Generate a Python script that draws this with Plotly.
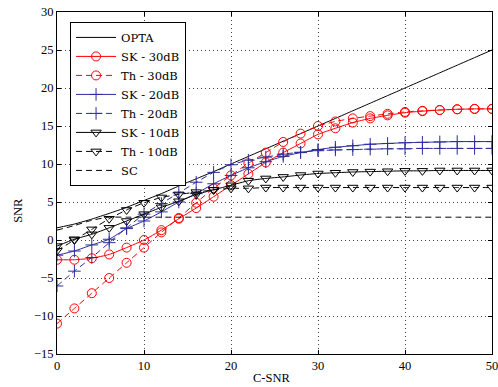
import plotly.graph_objects as go

x = [0, 2, 4, 6, 8, 10, 12, 14, 16, 18, 20, 22, 24, 26, 28, 30, 32, 34, 36, 38, 40, 42, 44, 46, 48, 50]

opta = [1.6, 2.1, 2.75, 3.5, 4.3, 5.2, 6.1, 7.1, 8.05, 9.0, 10.0, 11.0, 12.0, 13.0, 14.0, 15.0,
        16.0, 17.0, 18.0, 19.0, 20.0, 21.0, 22.0, 23.0, 24.0, 25.0]
sk30 = [-2.6, -2.6, -2.4, -1.9, -1.0, 0.0, 1.3, 2.8, 4.2, 5.7, 7.2, 8.7, 10.2, 11.5, 12.7, 13.9,
        14.7, 15.45, 16.0, 16.4, 16.75, 16.95, 17.1, 17.2, 17.25, 17.25]
th30 = [-11.0, -9.0, -7.0, -5.0, -3.0, -1.0, 1.0, 2.9, 4.9, 6.8, 8.5, 10.1, 11.5, 12.9, 14.0, 15.0,
        15.6, 16.0, 16.3, 16.6, 16.85, 17.0, 17.1, 17.2, 17.25, 17.25]
sk20 = [-2.0, -1.45, -0.65, 0.1, 1.5, 2.5, 3.7, 5.0, 6.1, 7.4, 8.5, 9.5, 10.3, 11.0, 11.5, 11.9,
        12.2, 12.4, 12.6, 12.7, 12.8, 12.85, 12.9, 12.95, 12.95, 12.95]
th20 = [-6.05, -4.1, -2.3, -0.35, 1.6, 3.4, 4.8, 6.2, 7.6, 8.9, 9.9, 10.5, 10.9, 11.3, 11.55, 11.75,
        11.85, 11.9, 11.95, 12.0, 12.0, 12.05, 12.05, 12.05, 12.05, 12.05]
sk10 = [-0.8, 0.1, 0.75, 1.6, 2.5, 3.4, 4.3, 5.1, 6.0, 6.6, 7.2, 7.8, 8.1, 8.3, 8.55, 8.75,
        8.85, 8.95, 9.0, 9.05, 9.1, 9.1, 9.15, 9.15, 9.15, 9.15]
th10 = [-1.4, 0.0, 1.4, 2.8, 3.95, 4.9, 5.6, 6.0, 6.3, 6.6, 6.8, 6.8, 6.9, 6.9, 6.9, 6.9,
        6.9, 6.9, 6.9, 6.9, 6.9, 6.9, 6.9, 6.9, 6.9, 6.9]
sc = [1.3, 1.9, 2.6, 3.0, 3.0, 3.0, 3.0, 3.0, 3.0, 3.0, 3.0, 3.0, 3.0, 3.0, 3.0, 3.0,
      3.0, 3.0, 3.0, 3.0, 3.0, 3.0, 3.0, 3.0, 3.0, 3.0]

names = ["OPTA", "SK - 30dB", "Th - 30dB", "SK - 20dB", "Th - 20dB", "SK - 10dB", "Th - 10dB", "SC"]
x_ticks = [0, 10, 20, 30, 40, 50]
y_ticks = [-15, -10, -5, 0, 5, 10, 15, 20, 25, 30]

RED = "#ff0000"
BLUE = "#2c2c9c"
BLK = "#000000"
DASH = "6px,4px"
FONT = "Liberation Serif"

specs = [
    (opta, BLK, "solid", None),
    (sk30, RED, "solid", "circle-open"),
    (th30, RED, DASH, "circle-open"),
    (sk20, BLUE, "solid", "cross-thin-open"),
    (th20, BLUE, DASH, "cross-thin-open"),
    (sk10, BLK, "solid", "triangle-down-open"),
    (th10, BLK, DASH, "triangle-down-open"),
    (sc, BLK, DASH, None),
]

fig = go.Figure()
for name, (ys, col, dash, sym) in zip(names, specs):
    mode = "lines+markers" if sym else "lines"
    marker = dict(symbol=sym, size=9, color=col, line=dict(color=col, width=1)) if sym else None
    fig.add_trace(go.Scatter(
        x=x, y=ys, name=name, mode=mode,
        line=dict(color=col, width=1, dash=dash, shape="spline", smoothing=0.5),
        marker=marker,
    ))

axis_common = dict(
    showline=True, linecolor="black", linewidth=1, mirror="ticks",
    ticks="inside", ticklen=4, tickcolor="black",
    showgrid=True, gridcolor="#444444", gridwidth=1, griddash="1px,3px",
    zeroline=False, automargin=False, ticklabeloverflow="allow",
    tickfont=dict(family=FONT, size=12.5, color="black"),
)

fig.update_xaxes(range=[0, 50], tickvals=x_ticks, **axis_common)
fig.update_yaxes(range=[-15, 30], tickvals=y_ticks, **axis_common)

fig.update_layout(
    width=498, height=387,
    margin=dict(l=57, r=6, t=12, b=33),
    paper_bgcolor="white", plot_bgcolor="white",
    showlegend=True,
    legend=dict(x=0.03, y=0.971, xanchor="left", yanchor="top",
                bgcolor="white", bordercolor="black", borderwidth=1,
                font=dict(family="DejaVu Serif", size=11.5, color="black"),
                tracegroupgap=0, itemwidth=40),
    annotations=[
        dict(text="C-SNR", xref="paper", yref="paper", x=0.492, y=-0.07,
             xanchor="center", yanchor="middle", showarrow=False,
             font=dict(family=FONT, size=12.5, color="black")),
        dict(text="SNR", xref="paper", yref="paper", x=-0.09, y=0.421,
             xanchor="center", yanchor="middle", showarrow=False, textangle=-90,
             font=dict(family=FONT, size=12.5, color="black")),
    ],
)

fig.write_html("out.html", config={"displayModeBar": False},
               post_script="document.body.style.margin='0';document.body.style.overflow='hidden';")
